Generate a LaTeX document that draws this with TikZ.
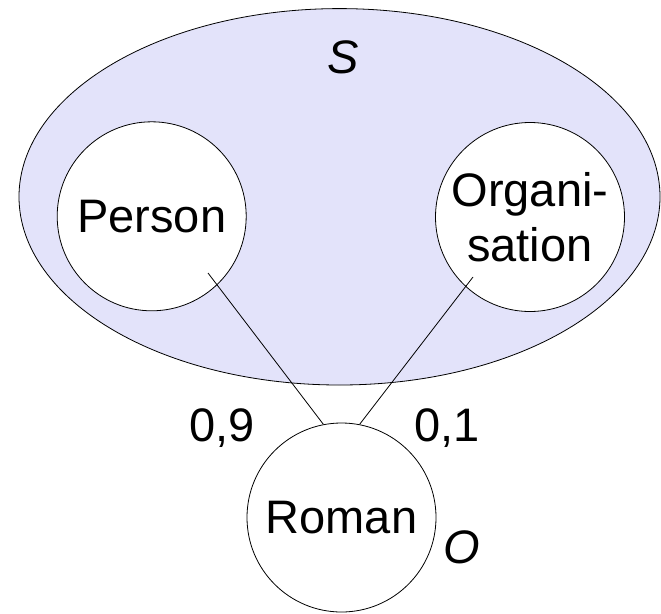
\documentclass[tikz,border=0pt]{standalone}
\usepackage{fontspec}
\setmainfont{Liberation Sans}
\usetikzlibrary{shapes.geometric,calc}
\definecolor{setfill}{HTML}{E3E3FA}
\begin{document}
\begin{tikzpicture}[x=1pt,y=-1pt,
  setarea/.style={ellipse, draw=black, line width=0.8pt, fill=setfill,
    minimum width=641pt, minimum height=376.4pt, inner sep=0pt},
  entity/.style={circle, draw=black, line width=0.8pt, fill=white,
    minimum size=189pt, inner sep=0pt, align=center,
    font=\fontsize{47}{55}\selectfont},
  lbl/.style={font=\fontsize{47}{55}\selectfont, inner sep=0pt, anchor=base},
  link/.style={draw=black, line width=0.8pt}]
\useasboundingbox (0,0) rectangle (661,613);

% the set S
\node[setarea] (S) at (339.5,196.8) {};
\node[lbl] (slabel) at (343.5,73) {\itshape S};

% classes inside S and the observed token
\node[entity] (person) at (151.7,216.3) {Person};
\node[entity] (org) at (530,217) {Organi-\\sation};
\node[entity] (roman) at (341.5,517.5) {Roman};
\node[lbl] (olabel) at (462,563) {\itshape O};

% connectors start inside the class circles
\coordinate (pstart) at ($(person.center)+(56.3,56.7)$);
\coordinate (ostart) at ($(org.center)+(-57,60)$);
\draw[link] (pstart) -- (roman.101.7);
\draw[link] (ostart) -- (roman.79);

% weights
\node[lbl] (w1) at (222,441.5) {0,9};
\node[lbl] (w2) at (447,441.5) {0,1};
\end{tikzpicture}
\end{document}
